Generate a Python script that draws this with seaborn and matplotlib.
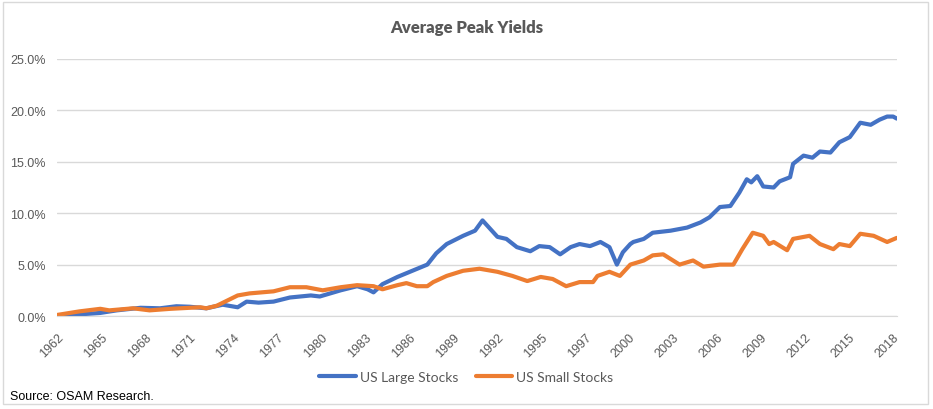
import numpy as np
import pandas as pd
import seaborn as sns
import matplotlib.pyplot as plt
from matplotlib.patches import Rectangle
from matplotlib.ticker import FuncFormatter

# US Large Stocks (decimal year, yield %)
large_years = [1962.0, 1962.9, 1964.9, 1966.0, 1967.6, 1968.9, 1970.0, 1970.9, 1972.0, 1973.1,
               1974.1, 1974.7, 1975.5, 1976.5, 1977.6, 1979.0, 1979.6, 1981.0, 1982.1, 1982.8,
               1983.2, 1983.8, 1984.8, 1985.8, 1986.8, 1987.4, 1988.1, 1989.2, 1990.0, 1990.5,
               1991.0, 1991.5, 1992.1, 1992.8, 1993.7, 1994.3, 1995.0, 1995.7, 1996.4, 1997.0,
               1997.7, 1998.4, 1999.0, 1999.5, 1999.9, 2000.4, 2000.6, 2001.3, 2001.9, 2003.1,
               2004.2, 2005.1, 2005.7, 2006.4, 2007.1, 2007.7, 2008.2, 2008.5, 2008.9, 2009.3,
               2010.0, 2010.4, 2011.1, 2011.3, 2012.0, 2012.6, 2013.1, 2013.8, 2014.4, 2015.1,
               2015.8, 2016.5, 2017.1, 2017.6, 2018.0, 2018.25]
large_vals = [0.0, 0.1, 0.3, 0.55, 0.8, 0.75, 0.95, 0.9, 0.75, 1.1,
              0.85, 1.4, 1.3, 1.4, 1.8, 2.0, 1.9, 2.5, 2.9, 2.6,
              2.3, 3.1, 3.8, 4.4, 5.0, 6.1, 7.0, 7.8, 8.3, 9.3,
              8.5, 7.7, 7.5, 6.7, 6.3, 6.8, 6.7, 6.0, 6.7, 7.0,
              6.8, 7.2, 6.7, 5.0, 6.2, 7.0, 7.2, 7.5, 8.1, 8.3,
              8.6, 9.1, 9.6, 10.6, 10.7, 12.0, 13.3, 13.0, 13.6, 12.6,
              12.5, 13.1, 13.5, 14.8, 15.6, 15.4, 16.0, 15.9, 16.9, 17.4,
              18.8, 18.6, 19.1, 19.4, 19.4, 19.2]

# US Small Stocks
small_years = [1962.0, 1963.5, 1964.9, 1965.5, 1967.1, 1968.2, 1969.6, 1970.9, 1971.6, 1972.0,
               1972.7, 1973.4, 1974.1, 1974.9, 1976.5, 1977.6, 1978.7, 1979.8, 1981.0, 1982.1,
               1983.2, 1983.8, 1984.8, 1985.4, 1986.1, 1986.8, 1987.2, 1988.1, 1989.2, 1990.3,
               1991.5, 1992.5, 1993.5, 1994.4, 1995.2, 1996.1, 1997.0, 1997.9, 1998.2, 1999.0,
               1999.7, 2000.4, 2001.3, 2001.9, 2002.6, 2003.7, 2004.6, 2005.3, 2006.4, 2007.3,
               2007.9, 2008.6, 2009.3, 2009.7, 2010.0, 2010.9, 2011.3, 2012.4, 2013.1, 2014.0,
               2014.4, 2015.1, 2015.8, 2016.7, 2017.6, 2018.25]
small_vals = [0.1, 0.45, 0.7, 0.55, 0.75, 0.55, 0.7, 0.8, 0.85, 0.75,
              1.0, 1.5, 2.0, 2.2, 2.4, 2.8, 2.8, 2.5, 2.8, 3.0,
              2.9, 2.6, 3.0, 3.2, 2.9, 2.9, 3.3, 3.9, 4.4, 4.6,
              4.3, 3.9, 3.4, 3.8, 3.6, 2.9, 3.3, 3.3, 3.9, 4.3,
              3.9, 5.0, 5.4, 5.9, 6.0, 5.0, 5.4, 4.8, 5.0, 5.0,
              6.5, 8.1, 7.8, 7.0, 7.2, 6.4, 7.5, 7.8, 7.0, 6.5,
              7.0, 6.8, 8.0, 7.8, 7.2, 7.6]

tick_labels = ['1962', '1965', '1968', '1971', '1974', '1977', '1980', '1983', '1986', '1989',
               '1992', '1995', '1997', '2000', '2003', '2006', '2009', '2012', '2015', '2018']
y_ticks = [0, 5, 10, 15, 20, 25]

df = pd.concat([
    pd.DataFrame({'year': large_years, 'yield': large_vals, 'series': 'US Large Stocks'}),
    pd.DataFrame({'year': small_years, 'yield': small_vals, 'series': 'US Small Stocks'}),
])

sns.set_style('white')
grey = '#595959'

fig = plt.figure(figsize=(9.33, 4.10), dpi=100)
ax = fig.add_axes([0.0611, 0.2268, 0.9003, 0.6269])

sns.lineplot(data=df, x='year', y='yield', hue='series',
             palette={'US Large Stocks': '#4472C4', 'US Small Stocks': '#ED7D31'},
             linewidth=3.0, ax=ax, legend=False)

# category-style axis: 20 evenly spaced labels
tick_pos = np.linspace(1962, 2018, len(tick_labels))
ax.set_xlim(1962, 2018.26)
ax.set_xticks(tick_pos)
ax.set_xticklabels(tick_labels, rotation=45, ha='right', va='top', rotation_mode='anchor',
                   family='Liberation Sans', fontsize=9, color=grey)
ax.set_ylim(0, 25)
ax.set_yticks(y_ticks)
ax.yaxis.set_major_formatter(FuncFormatter(lambda v, p: f'{v:.1f}%'))
for lab in ax.get_yticklabels():
    lab.set_family('Liberation Sans')
    lab.set_fontsize(9)
    lab.set_color(grey)

ax.grid(axis='y', color='#D9D9D9', linewidth=1)
ax.set_axisbelow(True)
for s in ['left', 'right', 'top']:
    ax.spines[s].set_visible(False)
ax.spines['bottom'].set_color('#D9D9D9')
ax.tick_params(axis='x', length=5, color='#D9D9D9', pad=6)
ax.tick_params(axis='y', length=0, pad=8)
ax.set_xlabel('')
ax.set_ylabel('')

fig.text(0.5, 1 - 28 / 410, 'Average Peak Yields', ha='center', va='center',
         family='Lato', fontweight='heavy', fontsize=12, color=grey)

handles = [plt.Line2D([], [], color='#4472C4', linewidth=3.0),
           plt.Line2D([], [], color='#ED7D31', linewidth=3.0)]
fig.legend(handles, ['US Large Stocks', 'US Small Stocks'], loc='center',
           bbox_to_anchor=(0.5, 1 - 378 / 410), ncol=2, frameon=False,
           handlelength=2.6, handletextpad=0.3, columnspacing=1.3,
           prop={'family': 'Lato', 'size': 10}, labelcolor=grey)

fig.text(10 / 933, 1 - 397 / 410, 'Source: OSAM Research.', ha='left', va='center',
         family=['Liberation Sans Narrow', 'Liberation Sans'], fontsize=9, color='black')

fig.patches.append(Rectangle((3 / 933, 5 / 410), 925 / 933, 402 / 410, transform=fig.transFigure,
                             fill=False, edgecolor='#D9D9D9', linewidth=1))

fig.savefig('out.png', dpi=100)
